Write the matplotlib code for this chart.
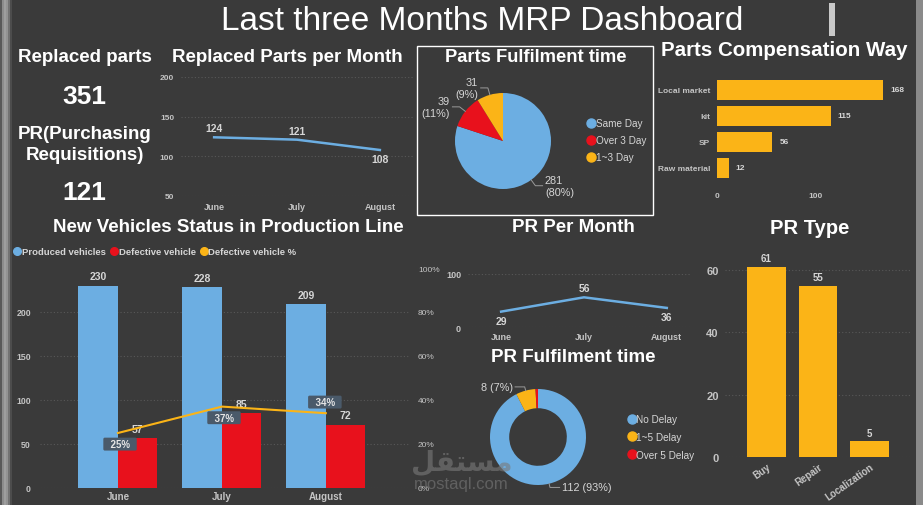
import numpy as np
import matplotlib.pyplot as plt
from matplotlib.lines import Line2D
from matplotlib.patches import Rectangle
from matplotlib.ticker import PercentFormatter

plt.rcParams['font.family'] = ['Liberation Sans', 'DejaVu Sans']
plt.rcParams['font.weight'] = 'bold'

# ==================== Data ====================
months = ['June', 'July', 'August']
total_replaced = 351
total_pr = 121

replaced_parts = [124, 121, 108]

fulfil_labels = ['Same Day', 'Over 3 Day', '1~3 Day']
fulfil_values = [281, 39, 31]

comp_labels = ['Local market', 'kit', 'SP', 'Raw material']
comp_values = [168, 115, 56, 12]

produced = [230, 228, 209]
defective = [57, 85, 72]
defective_pct = [0.25, 0.37, 0.34]

pr_month = [29, 56, 36]

pr_fulfil_labels = ['No Delay', '1~5 Delay', 'Over 5 Delay']
pr_fulfil_values = [112, 8, 1]

pr_type_labels = ['Buy', 'Repair', 'Localization']
pr_type_values = [61, 55, 5]

# ==================== Style ====================
W, H = 923, 506
BG = '#3a3a3a'
BLUE = '#6caee2'
RED = '#e8111c'
YEL = '#fbb417'
TICK = '#c4c4c4'
LBL = '#d6d6d6'
GRID = '#585858'
LEAD = '#9a9a9a'

fig = plt.figure(figsize=(W / 100, H / 100), dpi=100, facecolor=BG)


def px_axes(x0, y0, x1, y1):
    ax = fig.add_axes([x0 / W, 1 - y1 / H, (x1 - x0) / W, (y1 - y0) / H])
    ax.set_facecolor('none')
    for s in ax.spines.values():
        s.set_visible(False)
    ax.tick_params(length=0, colors=TICK, labelsize=6)
    return ax


def ftext(x, y, s, **kw):
    kw.setdefault('ha', 'center')
    kw.setdefault('va', 'center')
    kw.setdefault('color', 'white')
    return fig.text(x / W, 1 - y / H, s, **kw)


def hgrid(ax):
    ax.grid(axis='y', linestyle=(0, (1, 2)), color=GRID, linewidth=0.8)
    ax.set_axisbelow(True)


def dot_legend(labels, colors, x, y, ms=6, **kw):
    handles = [Line2D([], [], ls='none', marker='o', markersize=ms, color=c) for c in colors]
    return fig.legend(handles, labels, loc='upper left', bbox_to_anchor=(x / W, 1 - y / H),
                      frameon=False, borderpad=0, borderaxespad=0, handlelength=0.7,
                      handletextpad=0.15, labelcolor=LBL, **kw)


def pie_labels(ax, wedges, texts, r0=1.0, r1=1.1, dx=0.15, **kw):
    for w, t in zip(wedges, texts):
        if t is None:
            continue
        ang = np.deg2rad((w.theta1 + w.theta2) / 2)
        x0, y0 = r0 * np.cos(ang), r0 * np.sin(ang)
        x1, y1 = r1 * np.cos(ang), r1 * np.sin(ang)
        side = 1 if x1 > 0 else -1
        x2 = x1 + side * dx
        ax.plot([x0, x1, x2], [y0, y1, y1], color=LEAD, lw=0.7, clip_on=False)
        ax.text(x2 + side * 0.05, y1, t, ha='left' if side > 0 else 'right', va='center',
                multialignment='left' if side > 0 else 'right', color=LBL, fontsize=7.8,
                fontweight='normal', clip_on=False)


# ==================== Frame decorations ====================
edge = fig.add_axes([0, 0, 12 / W, 1])
edge.imshow([[0.35, 0.55, 0.62, 0.58, 0.45, 0.3]], cmap='gray', vmin=0, vmax=1,
            aspect='auto', extent=(0, 1, 0, 1))
edge.axis('off')
fig.add_artist(Rectangle((916 / W, 0), 7 / W, 1, transform=fig.transFigure,
                         color='#8a8a8a', lw=0))
fig.add_artist(Rectangle((829 / W, 1 - 37 / H), 6 / W, 33 / H, transform=fig.transFigure,
                         color='#c9c9c9', lw=0))
fig.add_artist(Rectangle((417 / W, 1 - 216 / H), 236 / W, 169 / H, transform=fig.transFigure,
                         fill=False, ec='white', lw=1))

ftext(482, 22, 'Last three Months MRP Dashboard', fontsize=24, fontweight='normal')

# ==================== KPIs ====================
ftext(85, 58, 'Replaced parts', fontsize=13.5)
ftext(84, 97, str(total_replaced), fontsize=19)
ftext(85, 145, 'PR(Purchasing\nRequisitions)', fontsize=13.5, linespacing=1.25)
ftext(84, 193, str(total_pr), fontsize=19)

# ==================== Replaced parts per month ====================
ftext(287, 58, 'Replaced Parts per Month', fontsize=13.5)
ax = px_axes(181, 78, 413, 197)
x = np.arange(len(months))
ax.plot(x, replaced_parts, color=BLUE, lw=1.8)
ax.set_xlim(-0.4, 2.4)
ax.set_ylim(50, 200)
ax.set_yticks(range(50, 201, 50))
ax.set_xticks(x, months)
ax.tick_params(axis='y', labelsize=6, pad=5)
ax.tick_params(axis='x', labelsize=6.5, pad=4)
hgrid(ax)
for i, v in enumerate(replaced_parts):
    up = i < 2
    ax.annotate(str(v), (i, v), xytext=(0, 3 if up else -3), textcoords='offset points',
                ha='center', va='bottom' if up else 'top', color=LBL, fontsize=7.5)

# ==================== Parts fulfilment time ====================
ftext(536, 57, 'Parts Fulfilment time', fontsize=13.2)
ax = px_axes(455, 94, 551, 190)
wedges, _ = ax.pie(fulfil_values, colors=[BLUE, RED, YEL], startangle=90, counterclock=False,
                   wedgeprops=dict(linewidth=0))
ax.set_xlim(-1, 1)
ax.set_ylim(-1, 1)
tot = sum(fulfil_values)
pie_labels(ax, wedges, [f'{v}\n({v / tot:.0%})' for v in fulfil_values], r1=1.15)
dot_legend(fulfil_labels, [BLUE, RED, YEL], 587, 119, ms=6.5,
           prop=dict(size=7.2, weight='normal'), labelspacing=0.7)

# ==================== Parts compensation way ====================
ftext(784, 50, 'Parts Compensation Way', fontsize=14.8)
ax = px_axes(717, 78, 905, 182)
yc = np.arange(len(comp_labels))
bars = ax.barh(yc, comp_values, height=0.77, color=YEL)
ax.set_ylim(3.5, -0.5)
ax.set_xlim(0, 190)
ax.set_yticks(yc, comp_labels)
ax.set_xticks([0, 100])
ax.tick_params(axis='y', labelsize=6, pad=5)
ax.tick_params(axis='x', labelsize=6, pad=8)
ax.bar_label(bars, padding=5, color=LBL, fontsize=6)

# ==================== New vehicles status ====================
ftext(228, 228, 'New Vehicles Status in Production Line', fontsize=13.5)
dot_legend(['Produced vehicles', 'Defective vehicle', 'Defective vehicle %'], [BLUE, RED, YEL],
           14, 248, ms=5.5, ncol=3, columnspacing=0.5, prop=dict(size=6.8, weight='bold'))
ax = px_axes(40, 269, 409, 489)
b1 = ax.bar(x - 0.19, produced, 0.38, color=BLUE)
b2 = ax.bar(x + 0.19, defective, 0.38, color=RED)
ax.set_xlim(-0.75, 2.8)
ax.set_ylim(0, 250)
ax.set_yticks(range(0, 201, 50))
ax.set_xticks(x, months)
ax.tick_params(axis='y', labelsize=6.3, pad=6.5)
ax.tick_params(axis='x', labelsize=7, pad=2)
hgrid(ax)
for b in (b1, b2):
    ax.bar_label(b, padding=3, color=LBL, fontsize=7.5)
ax2 = ax.twinx()
for s in ax2.spines.values():
    s.set_visible(False)
ax2.set_ylim(0, 1)
ax2.set_yticks(np.arange(0, 1.01, 0.2))
ax2.yaxis.set_major_formatter(PercentFormatter(1, decimals=0))
ax2.tick_params(length=0, colors=TICK, labelsize=6, pad=6.5)
for t in ax2.get_yticklabels():
    t.set_fontweight('normal')
ax2.plot(x, defective_pct, color=YEL, lw=1.5)
offs = [(1.5, -8), (1.5, -8), (-0.7, 8)]
for i, v in enumerate(defective_pct):
    ax2.annotate(f'  {v:.0%}  ', (i, v), xytext=offs[i], textcoords='offset points',
                 ha='center', va='center', color='#e6e6e6', fontsize=7, zorder=5,
                 bbox=dict(boxstyle='round,pad=0.15', fc='#4a5a6a', ec='none'))

# ==================== PR per month ====================
ftext(573, 228, 'PR Per Month', fontsize=13.5)
ax = px_axes(468, 275, 690, 328)
ax.plot(x, pr_month, color=BLUE, lw=1.8)
ax.set_xlim(-0.4, 2.28)
ax.set_ylim(0, 100)
ax.set_yticks([0, 100])
ax.set_xticks(x, months)
ax.tick_params(axis='y', labelsize=6.5, pad=5)
ax.tick_params(axis='x', labelsize=6.5, pad=3.5)
hgrid(ax)
for i, v in enumerate(pr_month):
    up = i == 1
    ax.annotate(str(v), (i, v), xytext=(0, 3 if up else -3), textcoords='offset points',
                ha='center', va='bottom' if up else 'top', color=LBL, fontsize=7.5)

# ==================== PR fulfilment time ====================
ftext(573, 357, 'PR Fulfilment time', fontsize=13.5)
ax = px_axes(490, 390, 586, 486)
wedges, _ = ax.pie(pr_fulfil_values, colors=[BLUE, YEL, RED], startangle=90, counterclock=False,
                   wedgeprops=dict(width=0.4, linewidth=0))
ax.set_xlim(-1, 1)
ax.set_ylim(-1, 1)
tot = sum(pr_fulfil_values)
pie_labels(ax, wedges, [f'{v} ({v / tot:.0%})' if v / tot > 0.02 else None
                        for v in pr_fulfil_values], r1=1.08, dx=0.2)
dot_legend(pr_fulfil_labels, [BLUE, YEL, RED], 628, 415, ms=6.5,
           prop=dict(size=7.2, weight='normal'), labelspacing=0.78)

# ==================== PR type ====================
ftext(810, 229, 'PR Type', fontsize=14.5)
ax = px_axes(725, 246, 911, 458)
bars = ax.bar(x, pr_type_values, width=0.75, color=YEL)
ax.set_xlim(-0.8, 2.8)
ax.set_ylim(0, 68)
ax.set_yticks(range(0, 61, 20))
ax.set_xticks(x, pr_type_labels, rotation=35, ha='right', rotation_mode='anchor')
ax.tick_params(axis='y', labelsize=8, pad=4.5)
ax.tick_params(axis='x', labelsize=7, pad=3)
hgrid(ax)
ax.bar_label(bars, padding=2.5, color=LBL, fontsize=7)

# ==================== Watermark ====================
ftext(462, 463, '\uFEDE\uFED8\uFE98\uFEB4\uFEE3', fontsize=20, color='#7a7a7a', alpha=0.6,
      family='DejaVu Sans')
ftext(461, 485, 'mostaql.com', fontsize=12, color='#7a7a7a', alpha=0.6, fontweight='normal')

fig.savefig('out.png', dpi=100, facecolor=BG)
